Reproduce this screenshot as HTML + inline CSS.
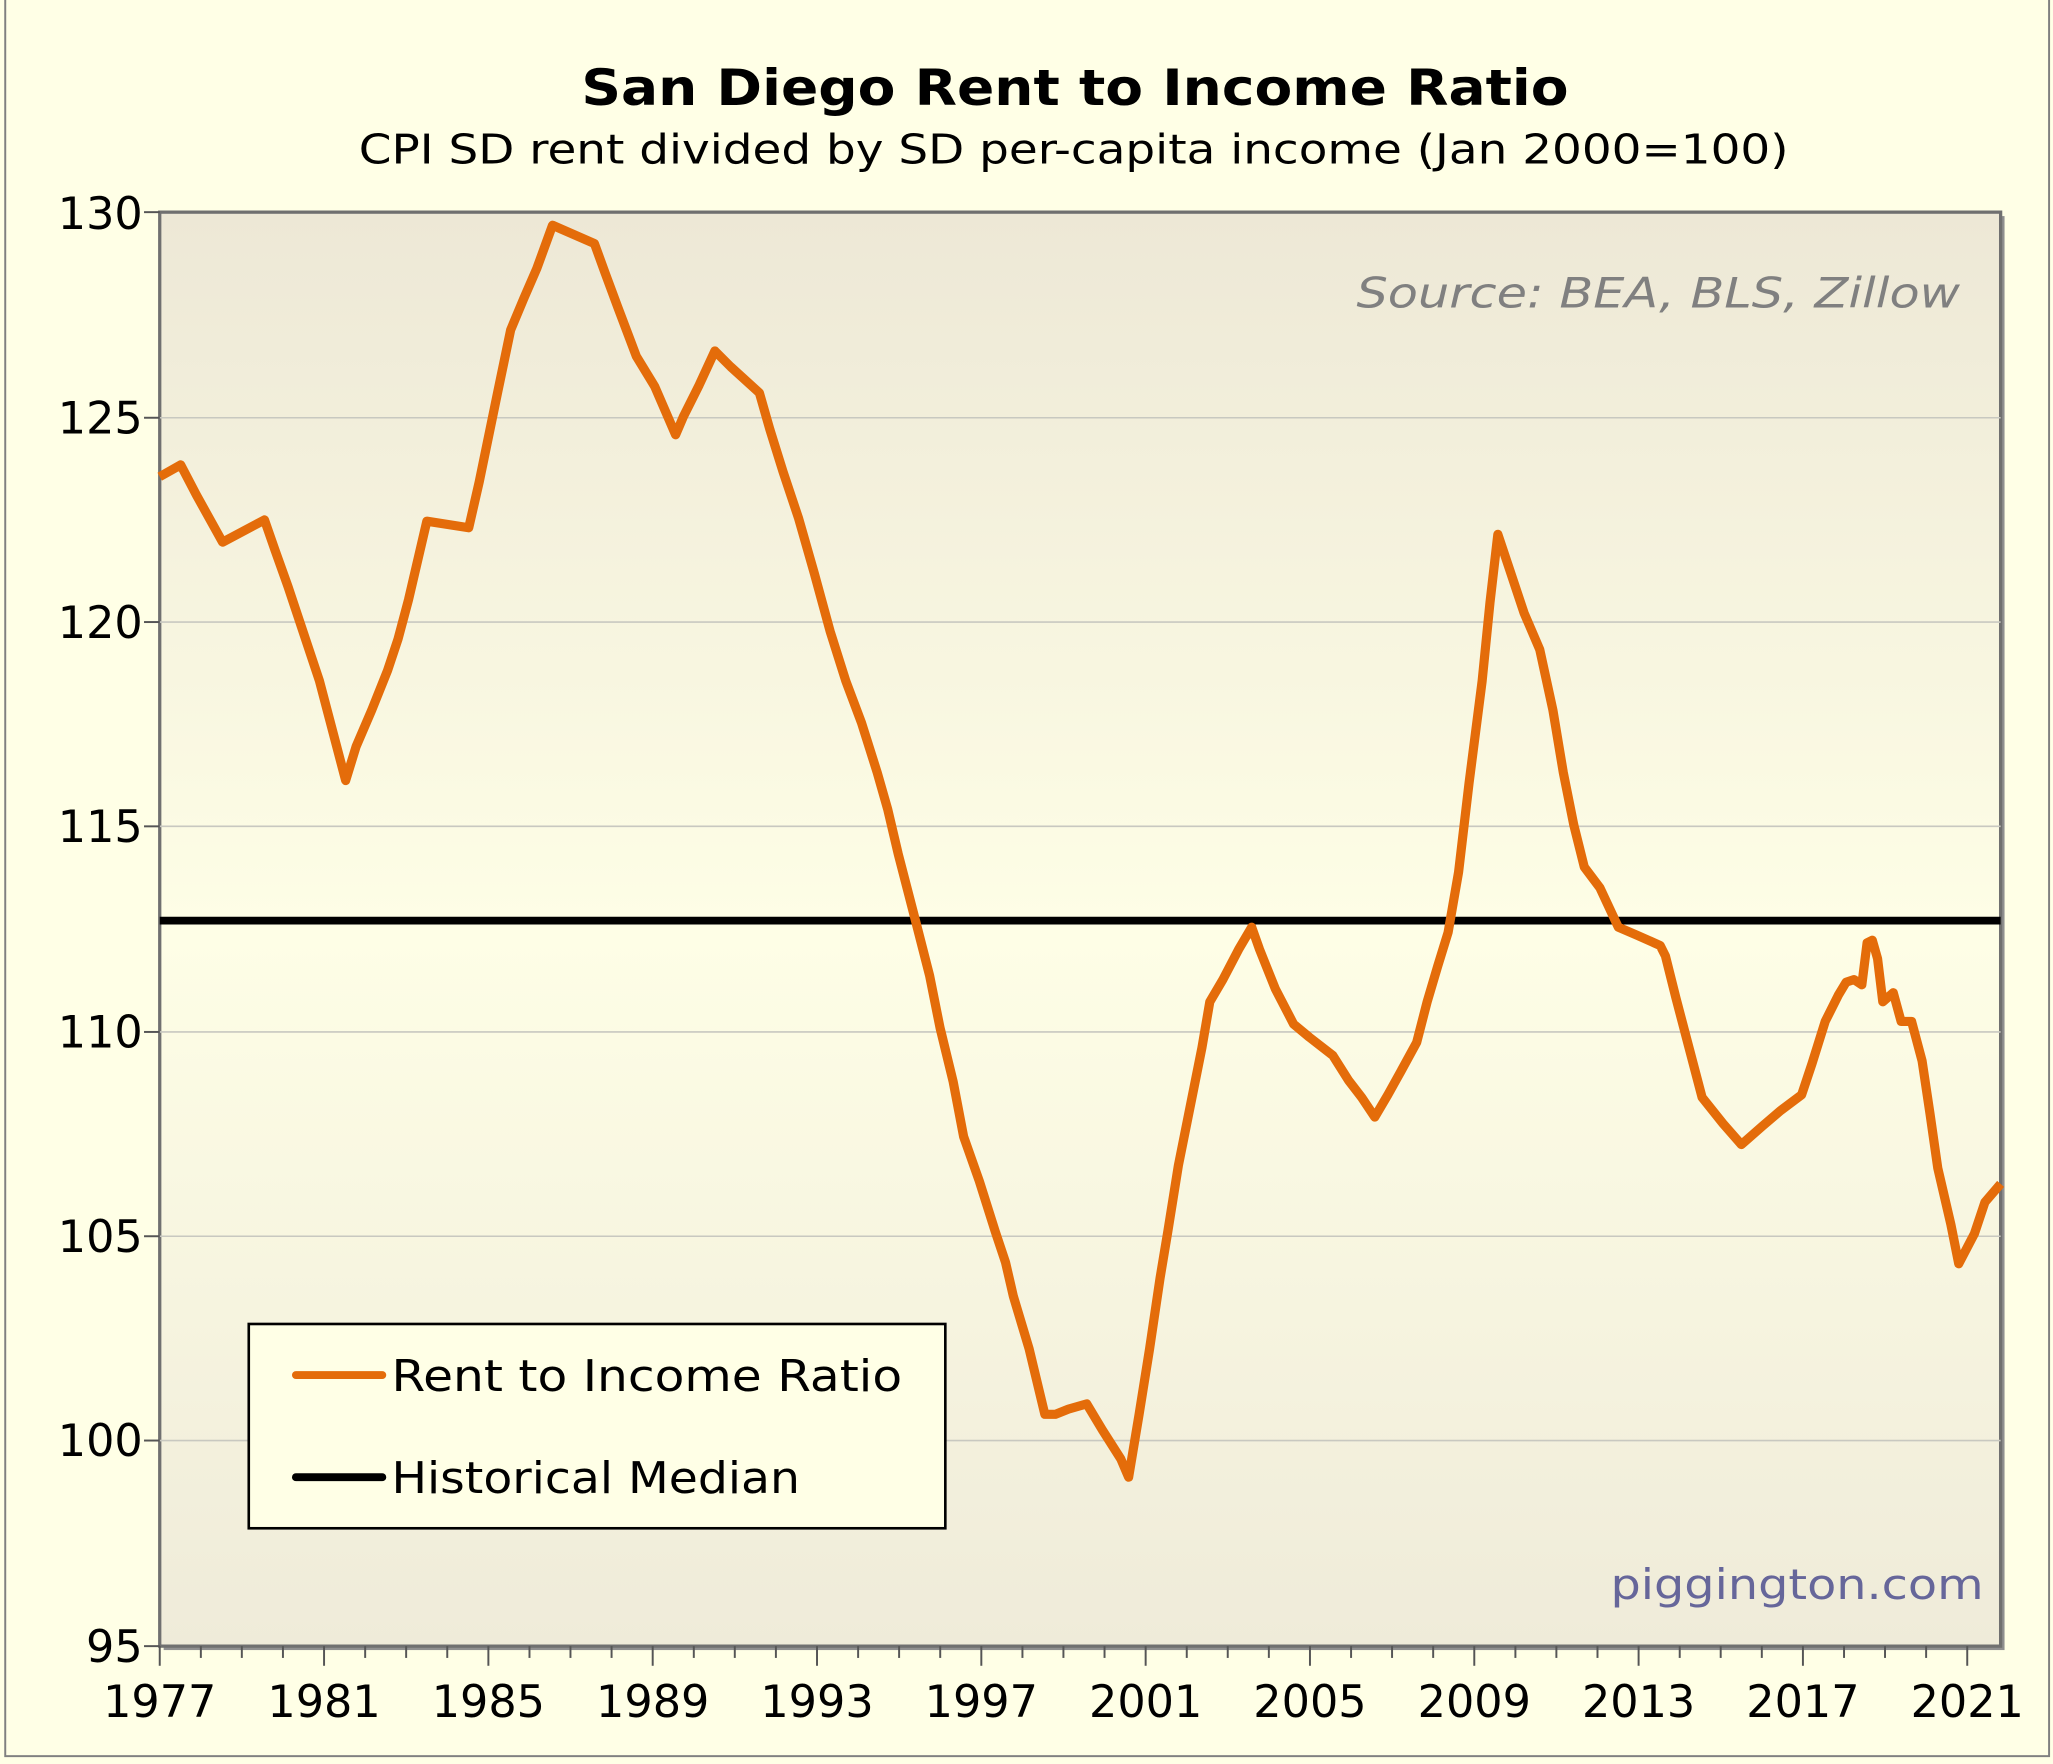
<!DOCTYPE html>
<html><head><meta charset="utf-8"><style>html,body{margin:0;padding:0;background:#ffffe6}svg{display:block}</style></head>
<body>
<svg width="2053" height="1764" viewBox="0 0 1568 1347" preserveAspectRatio="none" xmlns="http://www.w3.org/2000/svg" font-family="'DejaVu Sans','Liberation Sans',sans-serif">
<defs>
<linearGradient id="bg" x1="0" y1="0" x2="0" y2="1">
<stop offset="0" stop-color="#ede8d6"/><stop offset="0.5" stop-color="#fefee6"/><stop offset="1" stop-color="#efebd9"/>
</linearGradient>
</defs>
<rect x="0" y="0" width="1568" height="1347" fill="#ffffe6"/>
<rect x="4" y="-2" width="1561" height="1343" fill="none" stroke="#808080" stroke-width="1.5"/>
<text x="821" y="80" text-anchor="middle" font-weight="bold" font-size="38" textLength="754" lengthAdjust="spacingAndGlyphs">San Diego Rent to Income Ratio</text>
<text x="820" y="125" text-anchor="middle" font-size="31" textLength="1092" lengthAdjust="spacingAndGlyphs">CPI SD rent divided by SD per-capita income (Jan 2000=100)</text>
<rect x="125" y="165" width="1406" height="1095" fill="#909090"/>
<rect x="122" y="162" width="1406" height="1095" fill="url(#bg)" stroke="#707070" stroke-width="2.5"/>
<g stroke="#c8c8c0" stroke-width="1.2">
<line x1="122" x2="1528" y1="319" y2="319"/><line x1="122" x2="1528" y1="475" y2="475"/><line x1="122" x2="1528" y1="631" y2="631"/><line x1="122" x2="1528" y1="788" y2="788"/><line x1="122" x2="1528" y1="944" y2="944"/><line x1="122" x2="1528" y1="1100" y2="1100"/>
</g>
<g stroke="#555" stroke-width="1.5">
<line x1="110" x2="122" y1="162" y2="162"/><line x1="110" x2="122" y1="319" y2="319"/><line x1="110" x2="122" y1="475" y2="475"/><line x1="110" x2="122" y1="631" y2="631"/><line x1="110" x2="122" y1="788" y2="788"/><line x1="110" x2="122" y1="944" y2="944"/><line x1="110" x2="122" y1="1100" y2="1100"/><line x1="110" x2="122" y1="1257" y2="1257"/>
</g>
<g font-size="34" text-anchor="end">
<text x="109" y="175">130</text><text x="109" y="331">125</text><text x="109" y="487">120</text><text x="109" y="643">115</text><text x="109" y="800">110</text><text x="109" y="956">105</text><text x="109" y="1112">100</text><text x="109" y="1269">95</text>
</g>
<g font-size="34" text-anchor="middle">
<text x="122" y="1311">1977</text><text x="247.5" y="1311">1981</text><text x="373" y="1311">1985</text><text x="498.5" y="1311">1989</text><text x="624" y="1311">1993</text><text x="749.5" y="1311">1997</text><text x="875" y="1311">2001</text><text x="1000.5" y="1311">2005</text><text x="1126" y="1311">2009</text><text x="1251.5" y="1311">2013</text><text x="1377" y="1311">2017</text><text x="1502.5" y="1311">2021</text>
</g>
<text x="1497" y="235" text-anchor="end" font-style="italic" font-size="32" fill="#808080" textLength="461" lengthAdjust="spacingAndGlyphs">Source: BEA, BLS, Zillow</text>
<text x="1515" y="1221" text-anchor="end" font-size="32" fill="#66669a" textLength="285" lengthAdjust="spacingAndGlyphs">piggington.com</text>
<line x1="122" x2="1528" y1="703" y2="703" stroke="#000" stroke-width="6"/>
<polyline fill="none" stroke="#e46c0a" stroke-width="7" stroke-linejoin="round" points="122,364 138,355 150,378 170,414 202,397 210,420 220,448 232,484 244,520 264,596 272,570 284,542 296,512 304,488 312,458 326,398 358,403 366,368 380,300 390,252 400,228 410,205 422,172 454,186 462,208 472,235 486,272 500,295 516,332 522,318 534,294 546,268 558,280 580,300 588,328 598,360 610,396 622,438 634,482 646,520 658,552 670,590 678,618 686,652 700,706 710,745 718,785 728,826 736,868 748,902 760,940 768,964 774,990 786,1030 798,1080 806,1080 816,1076 830,1072 842,1092 856,1114 862,1128 870,1080 878,1030 886,976 892,940 900,890 910,840 918,800 924,765 934,748 946,725 956,708 962,725 974,755 988,782 1000,792 1018,806 1030,825 1040,838 1050,853 1060,836 1070,818 1082,796 1090,765 1098,738 1106,712 1114,666 1122,598 1132,520 1138,460 1144,408 1152,432 1164,468 1176,496 1186,542 1194,590 1202,630 1210,662 1222,678 1236,708 1250,714 1268,722 1272,730 1280,762 1290,800 1300,838 1316,858 1330,874 1346,860 1360,848 1376,836 1384,812 1394,780 1404,760 1410,750 1416,748 1422,752 1426,720 1430,718 1434,732 1438,765 1446,758 1452,780 1460,780 1468,810 1474,850 1480,892 1490,935 1496,965 1508,942 1516,918 1528,904"/>
<rect x="190" y="1011" width="532" height="156" fill="#ffffe6" stroke="#000" stroke-width="2"/>
<line x1="226" x2="292" y1="1050" y2="1050" stroke="#e46c0a" stroke-width="6" stroke-linecap="round"/>
<line x1="226" x2="292" y1="1128" y2="1128" stroke="#000" stroke-width="6" stroke-linecap="round"/>
<text x="299" y="1062" font-size="33" textLength="390" lengthAdjust="spacingAndGlyphs">Rent to Income Ratio</text>
<text x="299" y="1140" font-size="33" textLength="312" lengthAdjust="spacingAndGlyphs">Historical Median</text>
<g stroke="#555" stroke-width="1.5">
<line x1="122" x2="122" y1="1257" y2="1272"/><line x1="153.4" x2="153.4" y1="1257" y2="1266"/><line x1="184.7" x2="184.7" y1="1257" y2="1266"/><line x1="216.1" x2="216.1" y1="1257" y2="1266"/>
<line x1="247.5" x2="247.5" y1="1257" y2="1272"/><line x1="278.9" x2="278.9" y1="1257" y2="1266"/><line x1="310.2" x2="310.2" y1="1257" y2="1266"/><line x1="341.6" x2="341.6" y1="1257" y2="1266"/>
<line x1="373" x2="373" y1="1257" y2="1272"/><line x1="404.4" x2="404.4" y1="1257" y2="1266"/><line x1="435.7" x2="435.7" y1="1257" y2="1266"/><line x1="467.1" x2="467.1" y1="1257" y2="1266"/>
<line x1="498.5" x2="498.5" y1="1257" y2="1272"/><line x1="529.9" x2="529.9" y1="1257" y2="1266"/><line x1="561.2" x2="561.2" y1="1257" y2="1266"/><line x1="592.6" x2="592.6" y1="1257" y2="1266"/>
<line x1="624" x2="624" y1="1257" y2="1272"/><line x1="655.4" x2="655.4" y1="1257" y2="1266"/><line x1="686.7" x2="686.7" y1="1257" y2="1266"/><line x1="718.1" x2="718.1" y1="1257" y2="1266"/>
<line x1="749.5" x2="749.5" y1="1257" y2="1272"/><line x1="780.9" x2="780.9" y1="1257" y2="1266"/><line x1="812.2" x2="812.2" y1="1257" y2="1266"/><line x1="843.6" x2="843.6" y1="1257" y2="1266"/>
<line x1="875" x2="875" y1="1257" y2="1272"/><line x1="906.4" x2="906.4" y1="1257" y2="1266"/><line x1="937.7" x2="937.7" y1="1257" y2="1266"/><line x1="969.1" x2="969.1" y1="1257" y2="1266"/>
<line x1="1000.5" x2="1000.5" y1="1257" y2="1272"/><line x1="1031.9" x2="1031.9" y1="1257" y2="1266"/><line x1="1063.2" x2="1063.2" y1="1257" y2="1266"/><line x1="1094.6" x2="1094.6" y1="1257" y2="1266"/>
<line x1="1126" x2="1126" y1="1257" y2="1272"/><line x1="1157.4" x2="1157.4" y1="1257" y2="1266"/><line x1="1188.7" x2="1188.7" y1="1257" y2="1266"/><line x1="1220.1" x2="1220.1" y1="1257" y2="1266"/>
<line x1="1251.5" x2="1251.5" y1="1257" y2="1272"/><line x1="1282.9" x2="1282.9" y1="1257" y2="1266"/><line x1="1314.2" x2="1314.2" y1="1257" y2="1266"/><line x1="1345.6" x2="1345.6" y1="1257" y2="1266"/>
<line x1="1377" x2="1377" y1="1257" y2="1272"/><line x1="1408.4" x2="1408.4" y1="1257" y2="1266"/><line x1="1439.7" x2="1439.7" y1="1257" y2="1266"/><line x1="1471.1" x2="1471.1" y1="1257" y2="1266"/>
<line x1="1502.5" x2="1502.5" y1="1257" y2="1272"/>
</g>
</svg>
</body></html>
